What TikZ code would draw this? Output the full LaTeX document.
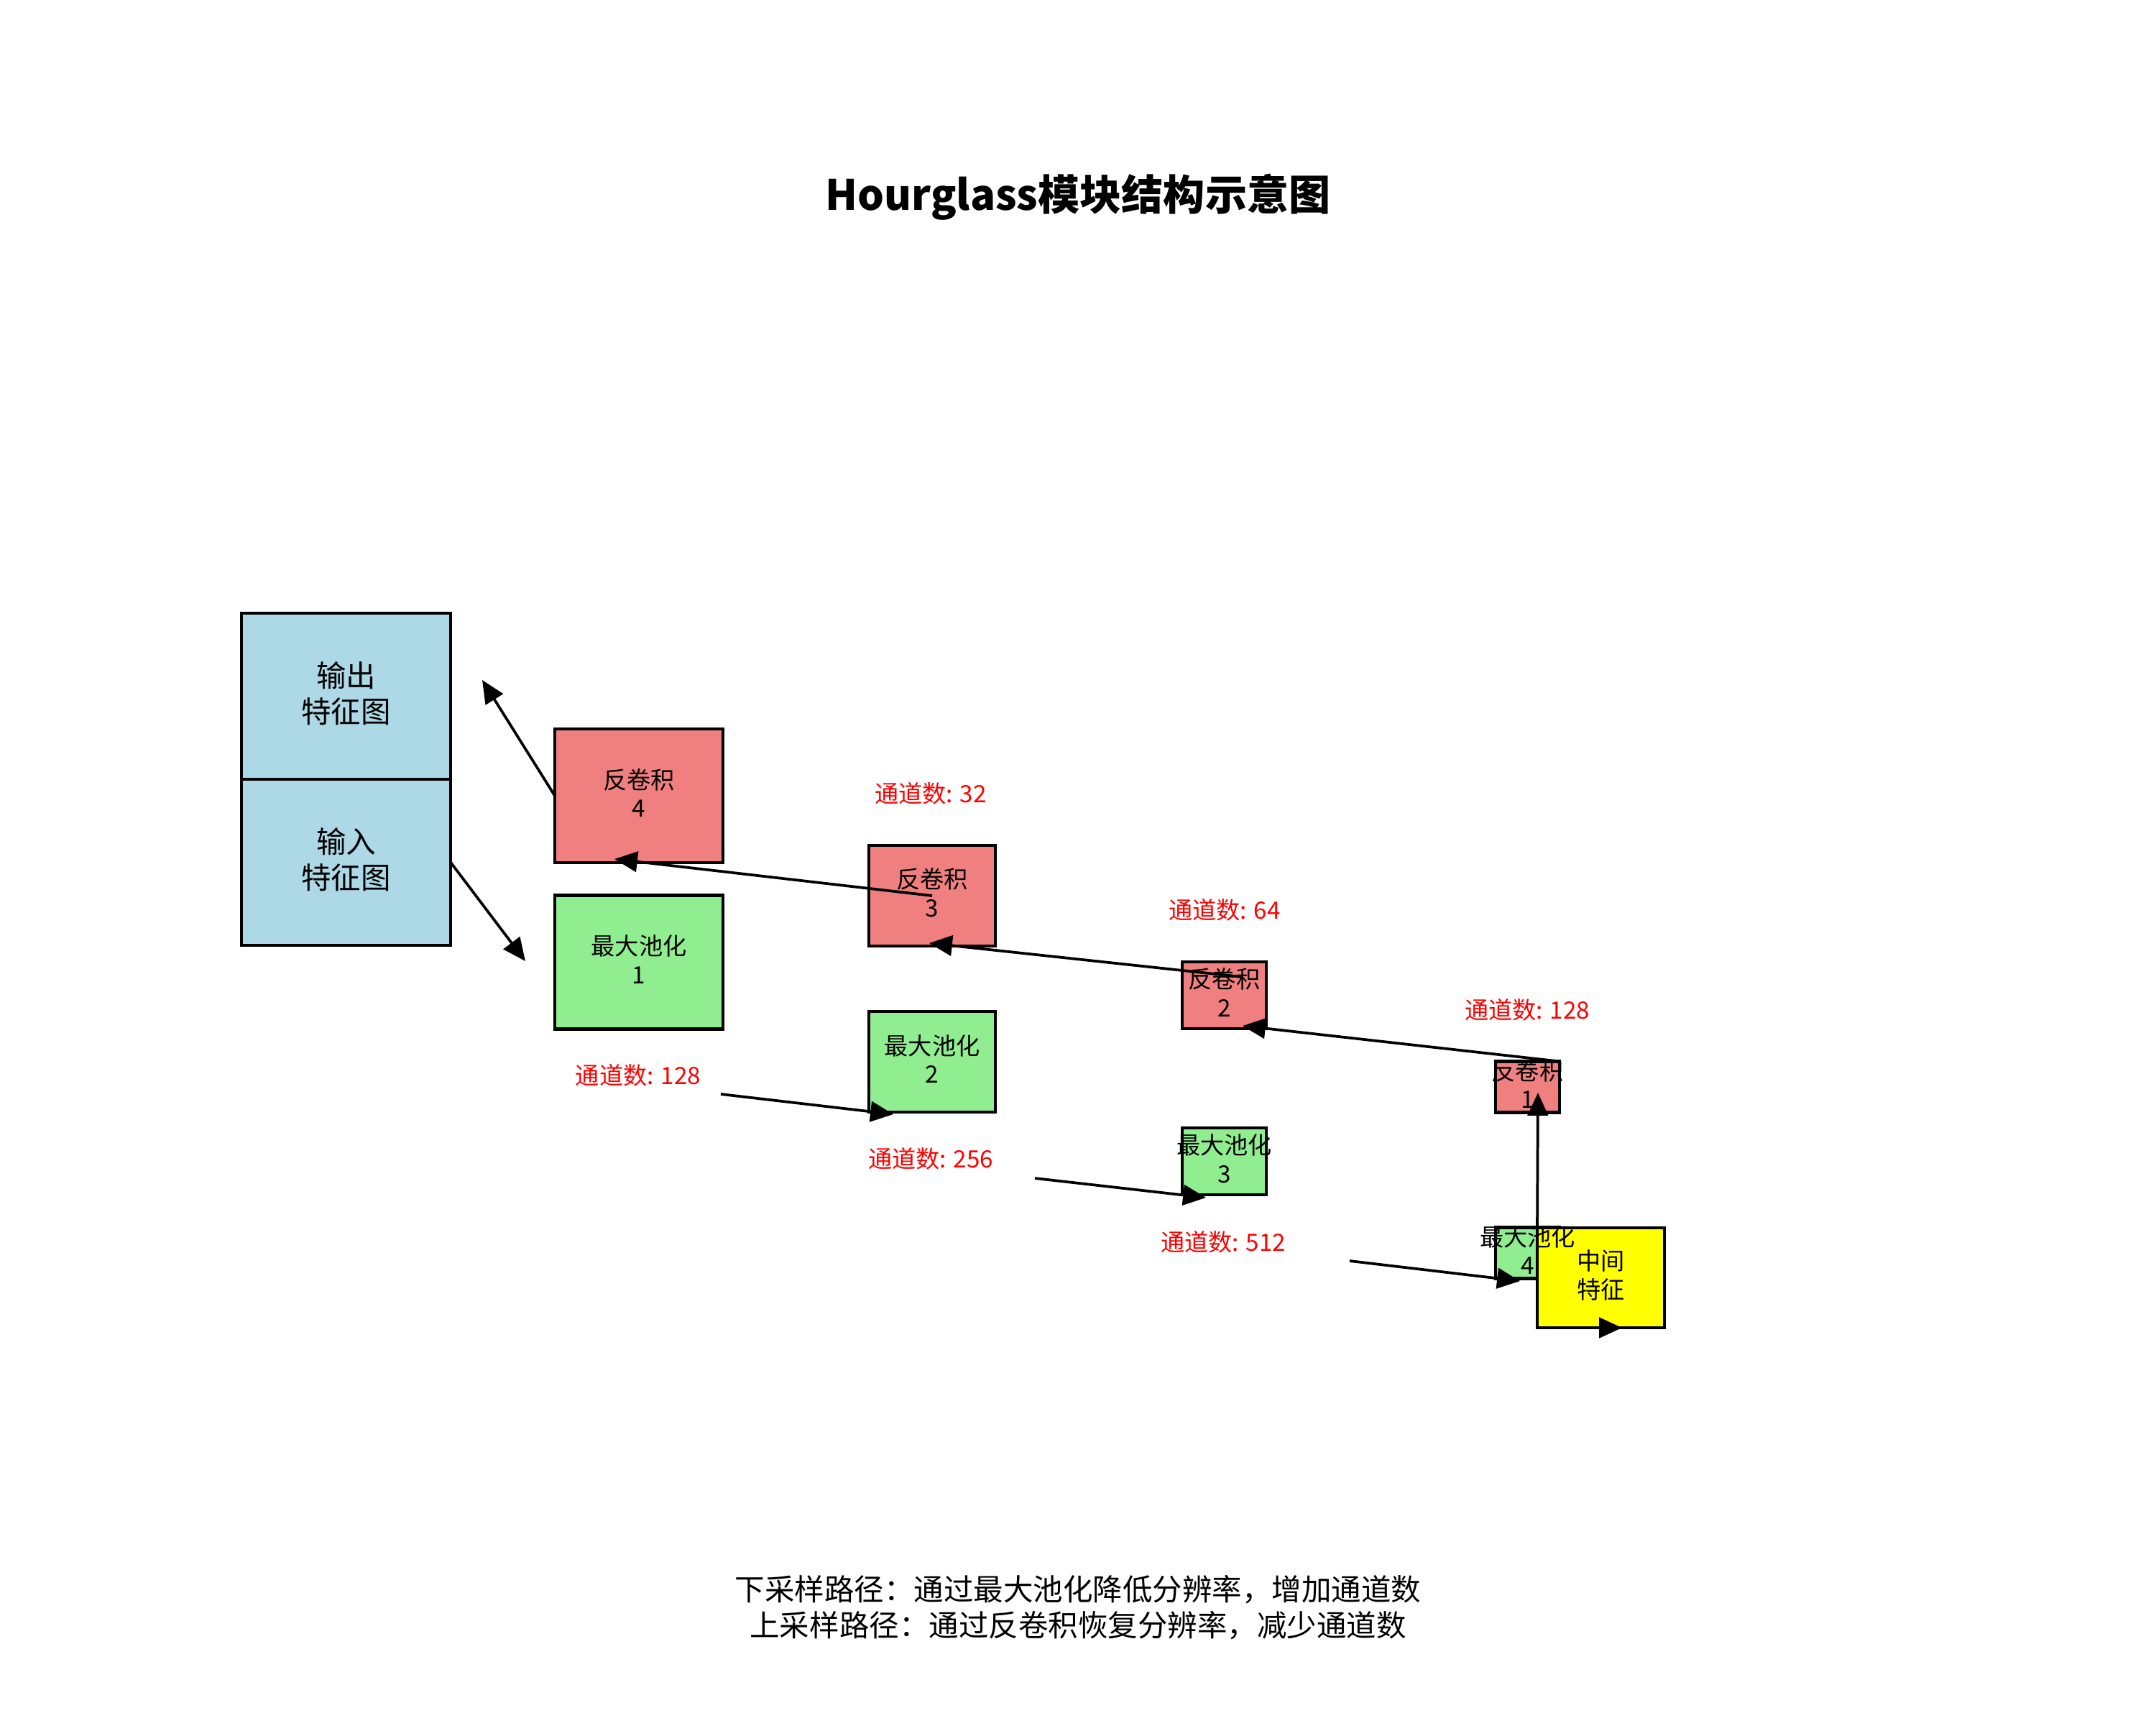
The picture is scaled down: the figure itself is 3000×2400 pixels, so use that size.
\documentclass[tikz,border=0pt]{standalone}
\usepackage{fontspec}
\setmainfont{Noto Sans CJK SC}
\usetikzlibrary{arrows.meta}
\newlength\pxu
\setlength\pxu{0.00846667cm}
\definecolor{cBlue}{HTML}{ADD8E6}
\definecolor{cCoral}{HTML}{F08080}
\definecolor{cGreen}{HTML}{90EE90}
\definecolor{cYellow}{HTML}{FFFF00}
\definecolor{cRed}{HTML}{FF0000}
\tikzset{
  boxbase/.style={draw=black, line width=1pt, inner sep=0pt, outer sep=0pt},
  iobox/.style={boxbase, fill=cBlue, minimum width=291\pxu, minimum height=231\pxu},
  deconv/.style={boxbase, fill=cCoral},
  pool/.style={boxbase, fill=cGreen},
  midbox/.style={boxbase, fill=cYellow},
  lvlA/.style={minimum width=234\pxu, minimum height=186\pxu},
  lvlB/.style={minimum width=176\pxu, minimum height=140\pxu},
  lvlC/.style={minimum width=117\pxu, minimum height=93\pxu},
  lvlD/.style={minimum width=89\pxu, minimum height=71\pxu},
  flow/.style={line width=0.9pt, -{Triangle[length=2.7mm, width=2.4mm]}},
  boxtext/.style={inner sep=0pt, align=center, yshift=4\pxu, font=\fontsize{8}{9.6}\selectfont},
  iotext/.style={inner sep=0pt, align=center, yshift=4\pxu, font=\fontsize{10}{12}\selectfont},
  chtext/.style={inner sep=0pt, text=cRed, font=\fontsize{8}{9.6}\selectfont},
  titletext/.style={inner sep=0pt, font=\fontsize{14}{16.8}\selectfont\bfseries},
  notetext/.style={inner sep=0pt, align=center, font=\fontsize{10}{12.2}\selectfont},
}
\begin{document}
\begin{tikzpicture}[x=\pxu, y=-\pxu]
\fill[white] (0,0) rectangle (3000,2400);
\useasboundingbox (0,0) rectangle (3000,2400);

% boxes
\node[iobox] (out) at (481.5,968.5) {};
\node[iobox] (in) at (481.5,1199.5) {};
\node[deconv, lvlA] (d4) at (889,1107) {};
\node[pool, lvlA] (p1) at (889,1338.5) {};
\node[deconv, lvlB] (d3) at (1297,1246) {};
\node[pool, lvlB] (p2) at (1297,1477) {};
\node[deconv, lvlC] (d2) at (1703.5,1384.5) {};
\node[pool, lvlC] (p3) at (1703.5,1615.5) {};
\node[deconv, lvlD] (d1) at (2125.5,1512) {};
\node[pool, lvlD] (p4) at (2125.5,1743) {};
\node[midbox, minimum width=177\pxu, minimum height=139\pxu] (mid) at (2227.5,1777.5) {};

% arrow end points
\coordinate (a1e) at (731,1337);
\coordinate (a2e) at (671,946);
\coordinate (a3s) at (1003,1522);
\coordinate (a3e) at (1243,1550);
\coordinate (a4s) at (1440,1639);
\coordinate (a4e) at (1678,1666);
\coordinate (a5s) at (1878,1754);
\coordinate (a5e) at (2115,1782);
\coordinate (a6e) at (2140,1520);
\coordinate (a7s) at (2169,1847);
\coordinate (a7e) at (2257,1847);
\coordinate (a8e) at (1729,1427);
\coordinate (a9s) at (1729,1359);
\coordinate (a9e) at (1293,1312);
\coordinate (a10e) at (855,1195);

% arrows
\draw[flow] (in.east) -- (a1e);
\draw[flow] (d4.west) -- (a2e);
\draw[flow] (a3s) -- (a3e);
\draw[flow] (a4s) -- (a4e);
\draw[flow] (a5s) -- (a5e);
\draw[flow] (mid.north west) -- (a6e);
\draw[flow] (a7s) -- (a7e);
\draw[flow] (d1.north east) -- (a8e);
\draw[flow] (a9s) -- (a9e);
\draw[flow] (d3.center) -- (a10e);

% texts
\node[titletext] (title) at (1500,274) {Hourglass模块结构示意图};
\node[iotext] (outt) at (out) {输出\\特征图};
\node[iotext] (int) at (in) {输入\\特征图};
\node[boxtext] (d4t) at (d4) {反卷积\\4};
\node[boxtext] (p1t) at (p1) {最大池化\\1};
\node[boxtext] (d3t) at (d3) {反卷积\\3};
\node[boxtext] (p2t) at (p2) {最大池化\\2};
\node[boxtext] (d2t) at (d2) {反卷积\\2};
\node[boxtext] (p3t) at (p3) {最大池化\\3};
\node[boxtext] (d1t) at (d1) {反卷积\\1};
\node[boxtext] (p4t) at (p4) {最大池化\\4};
\node[boxtext] (midt) at (mid) {中间\\特征};

\node[chtext] (c1) at (888,1496) {通道数: 128};
\node[chtext] (c2) at (1295,1612) {通道数: 256};
\node[chtext] (c3) at (1702,1728) {通道数: 512};
\node[chtext] (c4) at (1295,1104) {通道数: 32};
\node[chtext] (c5) at (1704,1266) {通道数: 64};
\node[chtext] (c6) at (2125,1405) {通道数: 128};

\node[notetext] (note) at (1500,2236) {下采样路径：通过最大池化降低分辨率，增加通道数\\上采样路径：通过反卷积恢复分辨率，减少通道数};
\end{tikzpicture}
\end{document}
